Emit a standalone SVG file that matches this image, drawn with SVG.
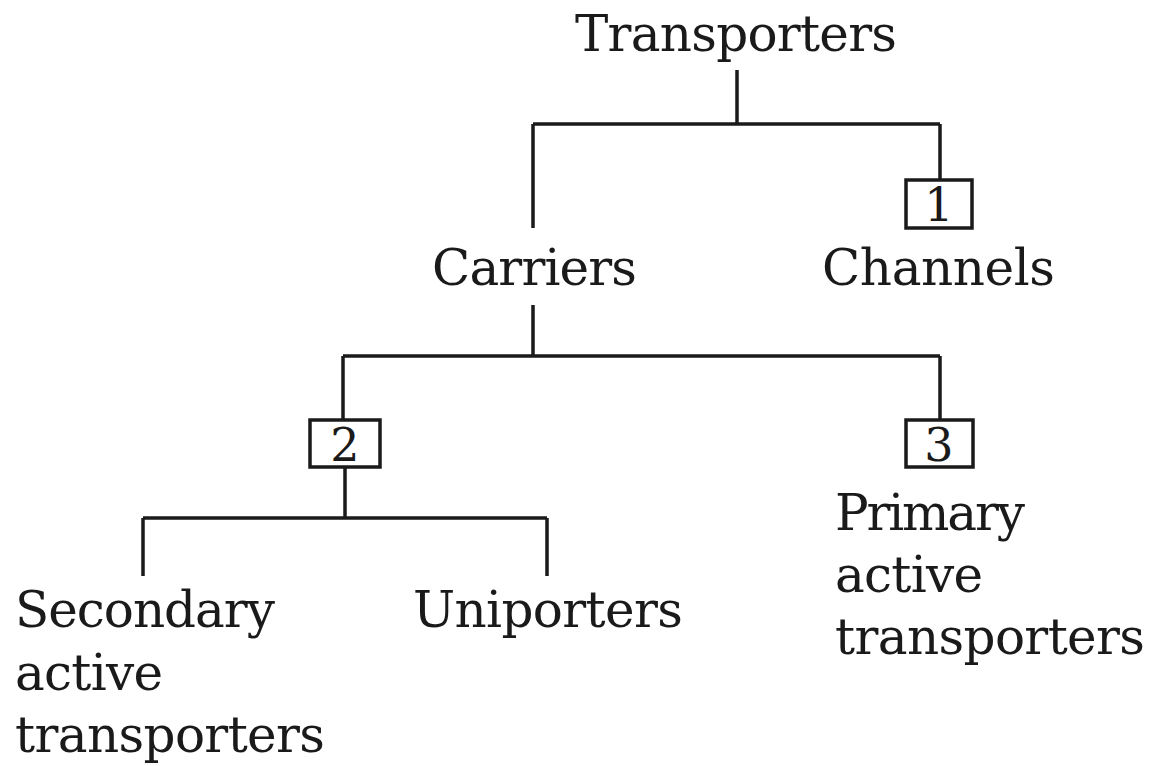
<svg xmlns="http://www.w3.org/2000/svg" width="1152" height="766" viewBox="0 0 1152 766">
<style>
.t{font-family:"DejaVu Serif","Liberation Serif",serif;font-size:50px;fill:#1a1a1a}
.n{font-family:"DejaVu Serif","Liberation Serif",serif;font-size:46px;fill:#1a1a1a;text-anchor:middle}
.c{stroke:#1a1a1a;stroke-width:3.5;fill:none}
.b{stroke:#1a1a1a;stroke-width:3.5;fill:#fff}
</style>
<rect width="1152" height="766" fill="#fff"/>
<g id="connectors" class="c">
<path d="M737 70V124M533 124H940M533 124V228M940 124V180"/>
<path d="M533 305V356M343 356H940M343 356V420M940 356V420"/>
<path d="M345 467V518M143 518H547M143 518V576M547 518V576"/>
</g>
<g id="transporters"><text class="t" x="575" y="51" textLength="322">Transporters</text></g>
<g id="box1"><rect class="b" x="906" y="180" width="66" height="48"/><text class="n" x="939" y="221">1</text></g>
<g id="carriers"><text class="t" x="432" y="285" textLength="205">Carriers</text></g>
<g id="channels"><text class="t" x="822" y="285" textLength="233">Channels</text></g>
<g id="box2"><rect class="b" x="310" y="420" width="70" height="47"/><text class="n" x="345" y="461">2</text></g>
<g id="box3"><rect class="b" x="906" y="420" width="67" height="47"/><text class="n" x="939" y="461">3</text></g>
<g id="secondary">
<text class="t" x="15" y="627" textLength="260">Secondary</text>
<text class="t" x="15" y="690" textLength="148">active</text>
<text class="t" x="15" y="752" textLength="310">transporters</text>
</g>
<g id="uniporters"><text class="t" x="413" y="627" textLength="270">Uniporters</text></g>
<g id="primary">
<text class="t" x="835" y="530" textLength="190">Primary</text>
<text class="t" x="835" y="592" textLength="148">active</text>
<text class="t" x="835" y="654" textLength="310">transporters</text>
</g>
</svg>
